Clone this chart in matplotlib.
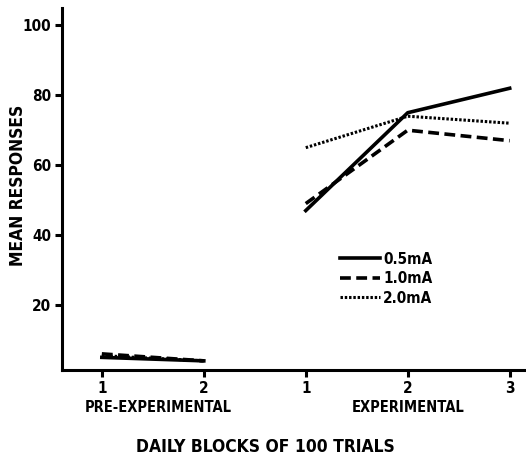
import matplotlib
matplotlib.use("Agg")
import matplotlib.pyplot as plt

plt.rcParams['font.family'] = ['DejaVu Sans']
plt.rcParams['font.stretch'] = 'condensed'
plt.rcParams['font.weight'] = 'bold'

# data
pre_x = [1, 2]
exp_x = [3, 4, 5]
tick_labels = ["1", "2", "1", "2", "3"]
series = ["0.5mA", "1.0mA", "2.0mA"]
pre_vals = {"0.5mA": [5, 4], "1.0mA": [6, 4], "2.0mA": [5.5, 4]}
exp_vals = {"0.5mA": [47, 75, 82], "1.0mA": [49, 70, 67], "2.0mA": [65, 74, 72]}
yticks = [20, 40, 60, 80, 100]

styles = {
    "0.5mA": dict(linestyle='-', linewidth=2.6),
    "1.0mA": dict(linestyle=(0, (3, 1.5)), linewidth=2.6),
    "2.0mA": dict(linestyle=(0, (0.8, 0.6)), linewidth=2.2),
}

fig = plt.figure(figsize=(5.26, 4.63), dpi=100)
ax = fig.add_axes([0.118, 0.201, 0.882, 0.782])

for s in series:
    ax.plot(pre_x, pre_vals[s], color='black', **styles[s])
    ax.plot(exp_x, exp_vals[s], color='black', label=s, **styles[s])

ax.set_xlim(0.61, 5.16)
ax.set_ylim(1.4, 105)
ax.set_xticks(pre_x + exp_x)
ax.set_xticklabels(tick_labels, fontsize=11, fontweight='bold')
ax.set_yticks(yticks)
ax.set_yticklabels([str(v) for v in yticks], fontsize=11, fontweight='bold')
for sp in ['top', 'right']:
    ax.spines[sp].set_visible(False)
for sp in ['left', 'bottom']:
    ax.spines[sp].set_linewidth(2.2)
ax.tick_params(axis='both', width=2.2, length=5, pad=3)

ax.text(1.55, -0.105, "PRE-EXPERIMENTAL", transform=ax.get_xaxis_transform(),
        ha='center', va='center', fontsize=10.5, fontweight='bold')
ax.text(4.0, -0.105, "EXPERIMENTAL", transform=ax.get_xaxis_transform(),
        ha='center', va='center', fontsize=10.5, fontweight='bold')
fig.text(0.505, 0.035, "DAILY BLOCKS OF 100 TRIALS", ha='center', va='center',
         fontsize=12.5, fontweight='bold')
fig.text(0.035, 0.60, "MEAN RESPONSES", ha='center', va='center', rotation=90,
         fontsize=12.5, fontweight='bold')

leg = ax.legend(loc='upper left', bbox_to_anchor=(0.57, 0.365), frameon=False,
                handlelength=2.6, handletextpad=0.2, labelspacing=0.3,
                prop={'size': 11, 'weight': 'bold', 'stretch': 'condensed'})

fig.savefig("out.png", dpi=100)
